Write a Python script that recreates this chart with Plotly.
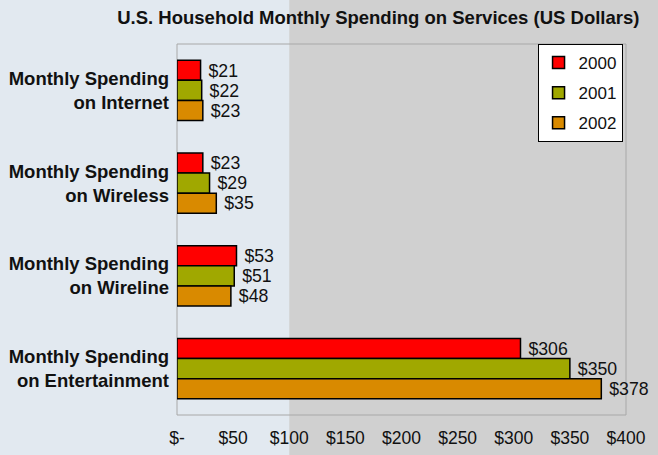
import plotly.graph_objects as go

categories = ["Monthly Spending<br>on Internet", "Monthly Spending<br>on Wireless",
              "Monthly Spending<br>on Wireline", "Monthly Spending<br>on Entertainment"]
years = ["2000", "2001", "2002"]
values_2000 = [21, 23, 53, 306]
values_2001 = [22, 29, 51, 350]
values_2002 = [23, 35, 48, 378]
tick_vals = [0, 50, 100, 150, 200, 250, 300, 350, 400]
tick_text = ["$-", "$50", "$100", "$150", "$200", "$250", "$300", "$350", "$400"]
colors = ["#ff0000", "#a0a800", "#d98a00"]

series = [values_2000, values_2001, values_2002]

fig = go.Figure()
for name, vals, col in zip(years, series, colors):
    fig.add_trace(go.Bar(
        y=categories, x=vals, name=name, orientation="h",
        marker=dict(color=col, line=dict(color="#000000", width=1.5)),
        text=[f"\u00a0${v}" for v in vals], textposition="outside",
        textfont=dict(family="Liberation Sans, Arial", size=18.5, color="#111111"),
        cliponaxis=False, legendgroup=name,
    ))

fig.update_layout(
    width=658, height=455,
    margin=dict(l=177, r=32, t=44, b=40),
    paper_bgcolor="#d0d0d0", plot_bgcolor="rgba(0,0,0,0)",
    barmode="group", bargap=0.35, bargroupgap=0,
    font=dict(family="Liberation Sans, Arial", color="#111111"),
    title=dict(text="<b>U.S. Household Monthly Spending on Services (US Dollars)</b>",
               x=0.575, xanchor="center", y=0.962, yanchor="middle",
               font=dict(size=18.5, color="#111111")),
    legend=dict(x=0.803, xanchor="left", y=1.0, yanchor="top",
                bgcolor="#ffffff", bordercolor="#000000", borderwidth=1,
                font=dict(size=17), tracegroupgap=5, traceorder="grouped"),
    showlegend=True,
    shapes=[
        dict(type="rect", xref="paper", yref="paper", x0=-0.5, x1=0.25, y0=-0.3, y1=1.3,
             fillcolor="#e2e9f0", line=dict(width=0), layer="below"),
        dict(type="rect", xref="paper", yref="paper", x0=0, x1=1, y0=0, y1=1,
             line=dict(color="#a8a8a8", width=1), layer="below"),
    ],
)
fig.update_xaxes(range=[0, 400], tickvals=tick_vals, ticktext=tick_text, automargin=False,
                 showgrid=False, zeroline=False, showline=False,
                 tickfont=dict(size=17.5, color="#111111"), ticks="", ticklabelstandoff=10)
fig.update_yaxes(autorange="reversed", showgrid=False, showline=False, ticks="", automargin=False,
                 tickfont=dict(size=18.5, color="#111111", weight="bold"), ticklabelstandoff=7)

fig.write_html("out.html", config={"displayModeBar": False},
               post_script="document.body.style.margin='0';document.body.style.background='#d0d0d0';")
